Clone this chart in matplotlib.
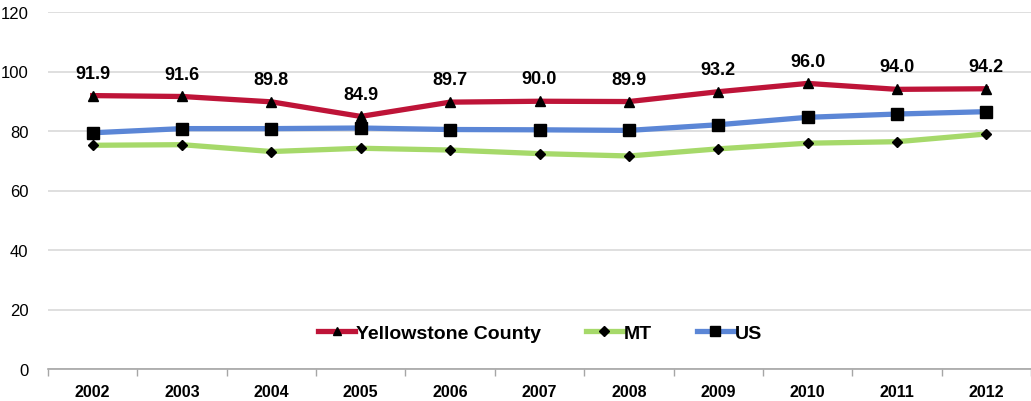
import matplotlib.pyplot as plt
from matplotlib.lines import Line2D

plt.rcParams['font.family'] = ['Liberation Sans', 'DejaVu Sans']

years = ['2002', '2003', '2004', '2005', '2006', '2007', '2008', '2009', '2010', '2011', '2012']
yellowstone = [91.9, 91.6, 89.8, 84.9, 89.7, 90.0, 89.9, 93.2, 96.0, 94.0, 94.2]
mt = [75.2, 75.4, 73.1, 74.2, 73.6, 72.4, 71.6, 74.0, 75.9, 76.4, 79.0]
us = [79.4, 80.8, 80.8, 81.0, 80.5, 80.4, 80.2, 82.1, 84.6, 85.7, 86.5]
yticks = [0, 20, 40, 60, 80, 100, 120]

W, H = 1031, 402
fig = plt.figure(figsize=(W / 100, H / 100), dpi=100)
ax = fig.add_axes([48 / W, 32 / H, (W - 48) / W, (370 - 13) / H])

x = list(range(len(years)))
red, green, blue = '#BE1438', '#A6D96A', '#5B86D6'
lw = 3.8

ax.plot(x, mt, color=green, lw=lw, marker='D', ms=5.5, mfc='black', mec='black', zorder=3)
ax.plot(x, us, color=blue, lw=lw, marker='s', ms=8, mfc='black', mec='black', zorder=3)
ax.plot(x, yellowstone, color=red, lw=lw, marker='^', ms=7.5, mfc='black', mec='black', zorder=4)

for xi, v in zip(x, yellowstone):
    ax.annotate(f'{v:.1f}', (xi, v), xytext=(0, 10), textcoords='offset points',
                ha='center', va='bottom', fontsize=13, fontweight='bold')

ax.set_xlim(-0.5, (W - 48) / 90 - 0.5)
ax.set_ylim(0, 120)
ax.set_yticks(yticks)
ax.set_yticklabels([str(t) for t in yticks], fontsize=12)
ax.yaxis.grid(True, color='#D9D9D9', lw=1.2)
ax.set_axisbelow(True)
ax.tick_params(axis='y', length=0, pad=14)

ax.set_xticks(x)
ax.set_xticklabels(years, fontsize=11.5, fontweight='bold')
ax.set_xticks([i - 0.5 for i in range(len(years) + 1)], minor=True)
ax.tick_params(axis='x', which='major', length=0, pad=11)
ax.tick_params(axis='x', which='minor', length=5, color='#A6A6A6', width=1)

for s in ['top', 'right', 'left']:
    ax.spines[s].set_visible(False)
ax.spines['bottom'].set_color('#A6A6A6')
ax.spines['bottom'].set_linewidth(1.2)

handles = [
    Line2D([], [], color=red, lw=lw, marker='^', ms=6, mfc='black', mec='black'),
    Line2D([], [], color=green, lw=lw, marker='D', ms=5, mfc='black', mec='black'),
    Line2D([], [], color=blue, lw=lw, marker='s', ms=7, mfc='black', mec='black'),
]
leg = fig.legend(handles, ['Yellowstone County', 'MT', 'US'], loc='center',
                 bbox_to_anchor=(540 / W, 1 - 334 / H), ncol=3, frameon=False,
                 prop={'size': 14, 'weight': 'bold'}, handlelength=1.9,
                 handletextpad=0.05, columnspacing=2.3)

fig.savefig('out.png', dpi=100)
